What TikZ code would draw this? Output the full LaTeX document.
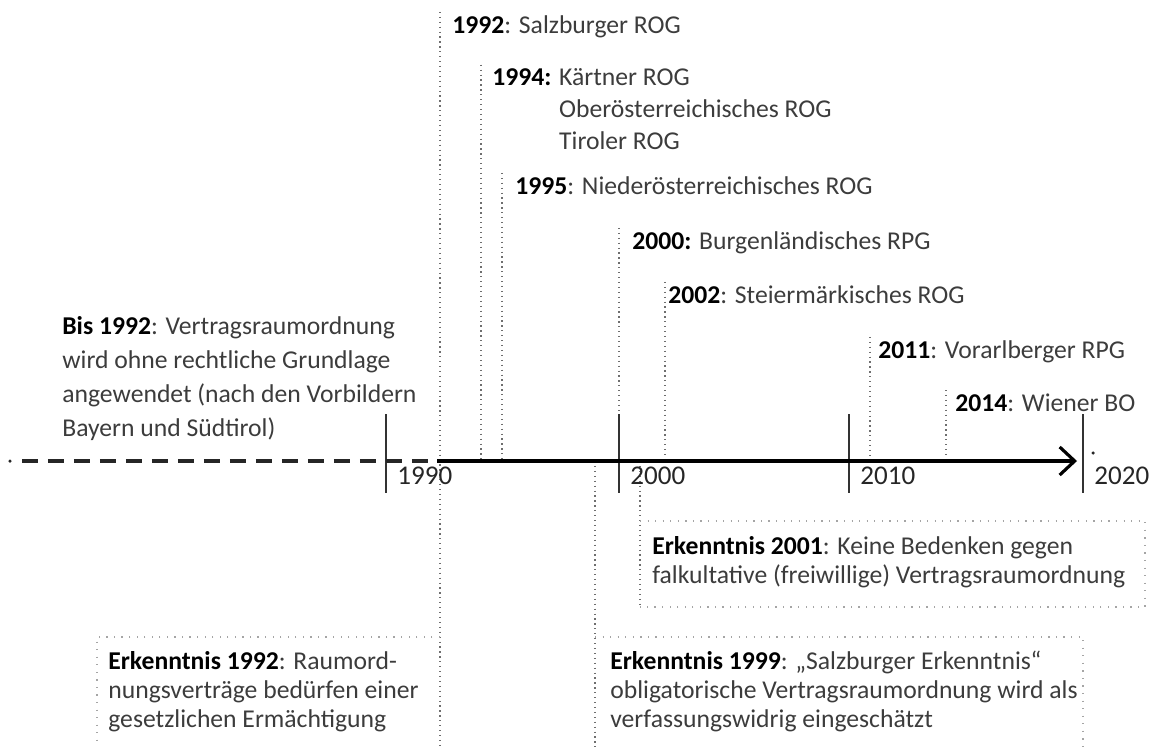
\documentclass[tikz,border=0pt]{standalone}
\usepackage{fontspec}
\setmainfont{Carlito}
\usetikzlibrary{arrows.meta,calc}
\definecolor{TextGray}{RGB}{60,60,60}
\definecolor{LineGray}{RGB}{110,110,110}
\definecolor{FrameGray}{RGB}{165,165,165}
\tikzset{
  eventlabel/.style={anchor=base west,inner sep=0pt,align=left,text=TextGray,
    font=\fontsize{14.6}{18.2}\selectfont},
  introtext/.style={eventlabel,font=\fontsize{14.6}{19.35}\selectfont},
  notetext/.style={eventlabel,font=\fontsize{14.6}{16.5}\selectfont},
  yearlabel/.style={anchor=base west,inner sep=0pt,text=black!85,
    font=\fontsize{15.4}{18}\selectfont},
  eventline/.style={draw=LineGray,line width=0.6pt,dash pattern=on 0.7pt off 2.1pt},
  noteframe/.style={draw=FrameGray,line width=0.6pt,dash pattern=on 0.7pt off 3.6pt},
  tickline/.style={draw=black!80,line width=0.9pt},
  timeaxis/.style={draw=black,line width=1.8pt,
    -{Straight Barb[length=0.3cm,width=0.56cm]}},
  pastaxis/.style={draw=black!85,line width=1.8pt,dash pattern=on 0.32cm off 0.2cm},
}
\newcommand{\yr}[1]{\textbf{\color{black}#1}}

\begin{document}
\begin{tikzpicture}[x=0.02cm,y=-0.02cm]
  \clip (0,0) rectangle (1156,747);
  % points on the time axis
  \coordinate (axisstart) at (10,461);
  \coordinate (axisjoin) at (437,461);
  \coordinate (axisend) at (1077,461);
  \coordinate (t1992) at (440,461);
  \coordinate (t1994) at (481,461);
  \coordinate (t1995) at (502,461);
  \coordinate (t1999) at (595,461);
  \coordinate (t2000) at (619,461);
  \coordinate (t2001) at (640,461);
  \coordinate (t2002) at (665,461);
  \coordinate (t2011) at (870,461);
  \coordinate (t2014) at (946,461);

  % laws above the axis (base = last line)
  \node[eventlabel] (ev1992) at (452,33) {\yr{1992}: Salzburger ROG};
  \node[eventlabel] (ev1994) at (492,149)
    {\yr{1994:} Kärtner ROG\\\hphantom{\yr{1994:} }Oberösterreichisches ROG\\
     \hphantom{\yr{1994:} }Tiroler ROG};
  \node[eventlabel] (ev1995) at (515,194) {\yr{1995}: Niederösterreichisches ROG};
  \node[eventlabel] (ev2000) at (632,249) {\yr{2000:} Burgenländisches RPG};
  \node[eventlabel] (ev2002) at (668,303) {\yr{2002}: Steiermärkisches ROG};
  \node[eventlabel] (ev2011) at (878,358) {\yr{2011}: Vorarlberger RPG};
  \node[eventlabel] (ev2014) at (955,411) {\yr{2014}: Wiener BO};
  \node[introtext] (bis) at (62,436)
    {\yr{Bis 1992}: Vertragsraumordnung\\wird ohne rechtliche Grundlage\\
     angewendet (nach den Vorbildern\\Bayern und Südtirol)};

  \draw[eventline] (t1992 |- ev1992.north) ++(0,-3) -- (440,760);
  \draw[eventline] (t1994 |- ev1994.north) ++(0,-3) -- (t1994);
  \draw[eventline] (t1995 |- ev1995.north) ++(0,-3) -- (t1995);
  \draw[eventline] (t2000 |- ev2000.north) ++(0,-3) -- (t2000);
  \draw[eventline] (t2002 |- ev2002.north) ++(0,-3) -- (t2002);
  \draw[eventline] (t2011 |- ev2011.north) ++(0,-3) -- (t2011);
  \draw[eventline] (t2014 |- ev2014.north) ++(0,-3) -- (t2014);

  % court rulings below the axis
  \node[notetext] (note2001) at (652,583)
    {\yr{Erkenntnis 2001}: Keine Bedenken gegen\\
     falkultative (freiwillige) Vertragsraumordnung};
  \node[notetext] (note1999) at (610,727)
    {\yr{Erkenntnis 1999}: „Salzburger Erkenntnis“\\
     obligatorische Vertragsraumordnung wird als\\verfassungswidrig eingeschätzt};
  \node[notetext] (note1992) at (108,727)
    {\yr{Erkenntnis 1992}: Raumord-\\nungsverträge bedürfen einer\\
     gesetzlichen Ermächtigung};

  \draw[eventline] (t2001) -- (640,607);
  \draw[noteframe] (640,521) -- (1145,521) -- (1145,607) -- (640,607);
  \draw[eventline] (t1999) -- (595,760);
  \draw[noteframe] (595,637) -- (1083,637) -- (1083,760);
  \draw[noteframe] (440,637) -- (97,637) -- (97,760);

  % axis and decades
  \foreach \year/\px in {1990/386,2000/619,2010/849,2020/1083}{
    \draw[tickline] (\px,414) -- (\px,493);
    \node[yearlabel] (year\year) at (\px+11,484) {\year};
  }
  \fill[black!85] (axisstart) circle (0.035cm);
  \fill[black!85] (1093,453) circle (0.035cm);
  \draw[pastaxis] ($(axisstart)+(12,0)$) -- (axisjoin);
  \draw[timeaxis] (axisjoin) -- (axisend);
\end{tikzpicture}
\end{document}
